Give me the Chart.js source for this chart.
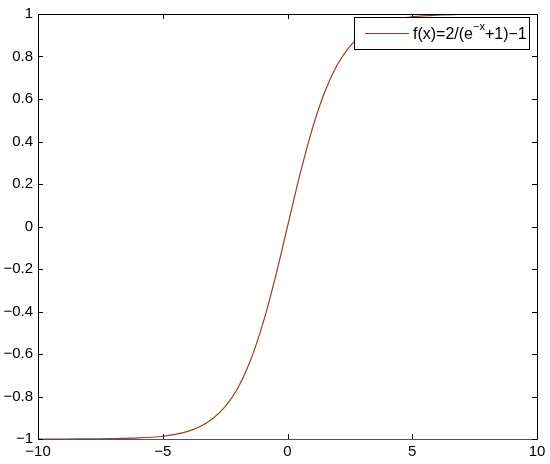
<!DOCTYPE html>
<html lang="en">
<head>
    <meta charset="UTF-8">
    <title>f(x) = 2/(e^-x + 1) - 1</title>
    <script src="https://cdn.jsdelivr.net/npm/chart.js"></script>
    <style>
        html, body { margin: 0; padding: 0; background: #fff; }
        #wrap { width: 550px; height: 464px; }
    </style>
</head>
<body>
    <div id="wrap"><canvas id="sigmoidchart"></canvas></div>
    <script>
        // values
        const xValues = [-10, -9, -8, -7, -6, -5, -4.5, -4, -3.5, -3, -2.5, -2, -1.5, -1, -0.5,
                         0, 0.5, 1, 1.5, 2, 2.5, 3, 3.5, 4, 4.5, 5, 6, 7, 8, 9, 10];
        const yValues = [-1.000, -1.000, -0.999, -0.998, -0.995, -0.987, -0.978, -0.964, -0.941, -0.905,
                         -0.848, -0.762, -0.635, -0.462, -0.245,
                         0, 0.245, 0.462, 0.635, 0.762, 0.848, 0.905, 0.941, 0.964, 0.978, 0.987,
                         0.995, 0.998, 0.999, 1.000, 1.000];
        const xTicks = [-10, -5, 0, 5, 10];
        const yTicks = [-1, -0.8, -0.6, -0.4, -0.2, 0, 0.2, 0.4, 0.6, 0.8, 1];
        const legendMain = 'f(x)=2/(e';
        const legendSup = '\u2212x';
        const legendTail = '+1)\u22121';

        const lineColor = '#a03c1e';
        const fontFamily = '"Liberation Sans", Arial, Helvetica, sans-serif';

        Chart.defaults.font.family = fontFamily;
        Chart.defaults.font.size = 15;
        Chart.defaults.color = '#000';

        const points = xValues.map((x, i) => ({ x: x, y: yValues[i] }));
        const fmt = v => String(v).replace('-', '\u2212');

        // box, inward ticks on all four sides and the legend, MATLAB style
        const framePlugin = {
            id: 'frame',
            afterDatasetsDraw(chart) {
                const ctx = chart.ctx;
                const a = chart.chartArea;
                const xs = chart.scales.x;
                const ys = chart.scales.y;
                ctx.save();
                ctx.lineWidth = 1;
                ctx.strokeStyle = '#000';
                ctx.beginPath();
                ctx.moveTo(a.left + 0.5, a.bottom + 0.5);
                ctx.lineTo(a.left + 0.5, a.top + 0.5);
                ctx.lineTo(a.right + 0.5, a.top + 0.5);
                ctx.lineTo(a.right + 0.5, a.bottom + 0.5);
                ctx.stroke();
                ctx.strokeStyle = '#4a4a9a';
                ctx.beginPath();
                ctx.moveTo(a.left, a.bottom + 0.5);
                ctx.lineTo(a.right + 1, a.bottom + 0.5);
                ctx.stroke();

                ctx.strokeStyle = '#000';
                ctx.beginPath();
                const t = 5;
                xTicks.forEach(v => {
                    const px = Math.round(xs.getPixelForValue(v)) + 0.5;
                    ctx.moveTo(px, a.bottom); ctx.lineTo(px, a.bottom - t);
                    ctx.moveTo(px, a.top); ctx.lineTo(px, a.top + t);
                });
                yTicks.forEach(v => {
                    const py = Math.round(ys.getPixelForValue(v)) + 0.5;
                    ctx.moveTo(a.left, py); ctx.lineTo(a.left + t, py);
                    ctx.moveTo(a.right, py); ctx.lineTo(a.right - t, py);
                });
                ctx.stroke();

                // legend box
                const bx = 354.5, by = 17.5, bw = 175, bh = 32;
                ctx.fillStyle = '#fff';
                ctx.fillRect(bx, by, bw, bh);
                ctx.strokeStyle = '#000';
                ctx.strokeRect(bx, by, bw, bh);
                ctx.strokeStyle = lineColor;
                ctx.beginPath();
                ctx.moveTo(365, 33.5);
                ctx.lineTo(409, 33.5);
                ctx.stroke();
                ctx.fillStyle = '#000';
                ctx.textBaseline = 'alphabetic';
                ctx.font = '16px ' + fontFamily;
                let tx = 413;
                ctx.fillText(legendMain, tx, 39);
                tx += ctx.measureText(legendMain).width;
                ctx.font = '11px ' + fontFamily;
                ctx.fillText(legendSup, tx, 30);
                tx += ctx.measureText(legendSup).width;
                ctx.font = '16px ' + fontFamily;
                ctx.fillText(legendTail, tx, 39);
                ctx.restore();
            }
        };

        const ctx = document.getElementById('sigmoidchart').getContext('2d');
        new Chart(ctx, {
            type: 'line',
            data: {
                datasets: [{
                    label: legendMain + legendSup + legendTail,
                    data: points,
                    borderColor: lineColor,
                    borderWidth: 1.2,
                    pointRadius: 0,
                    cubicInterpolationMode: 'monotone',
                    fill: false
                }]
            },
            options: {
                responsive: true,
                maintainAspectRatio: false,
                animation: false,
                layout: { padding: { left: 0, top: 9, right: 13, bottom: 0 } },
                plugins: {
                    legend: { display: false },
                    tooltip: { enabled: false }
                },
                scales: {
                    x: {
                        type: 'linear',
                        min: -10,
                        max: 10,
                        afterBuildTicks: s => { s.ticks = xTicks.map(v => ({ value: v })); },
                        afterFit: s => { s.height = 25; },
                        grid: { display: false, drawTicks: false },
                        border: { display: false },
                        ticks: {
                            color: '#000',
                            padding: 4,
                            maxRotation: 0,
                            font: { family: fontFamily, size: 15 },
                            callback: v => fmt(v)
                        }
                    },
                    y: {
                        type: 'linear',
                        min: -1,
                        max: 1,
                        afterBuildTicks: s => { s.ticks = yTicks.map(v => ({ value: v })); },
                        afterFit: s => { s.width = 38; },
                        grid: { display: false, drawTicks: false },
                        border: { display: false },
                        ticks: {
                            color: '#000',
                            padding: 5,
                            font: { family: fontFamily, size: 15 },
                            callback: v => fmt(v)
                        }
                    }
                }
            },
            plugins: [framePlugin]
        });
    </script>
</body>
</html>
